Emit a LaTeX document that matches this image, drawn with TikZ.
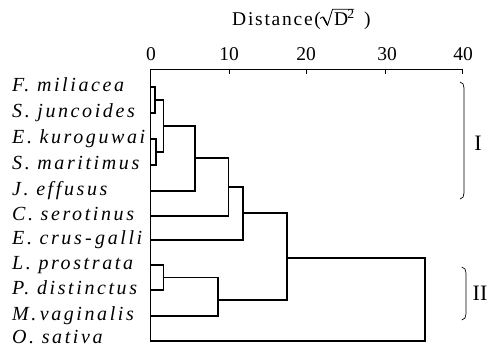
\documentclass[tikz,border=0pt]{standalone}
\usepackage{fontspec}
\setmainfont{Liberation Serif}
\begin{document}
\begin{tikzpicture}[x=1pt,y=-1pt,
  lab/.style={anchor=base west, inner sep=0pt, text depth=0pt, font=\fontsize{20}{20}\selectfont\itshape\addfontfeature{LetterSpace=13}},
  ttl/.style={anchor=base west, inner sep=0pt, font=\fontsize{19.5}{19.5}\selectfont\addfontfeature{LetterSpace=9}},
  num/.style={anchor=base, inner sep=0pt, font=\fontsize{19.5}{19.5}\selectfont},
  grp/.style={inner sep=0pt, font=\fontsize{22}{22}\selectfont},
  tree/.style={line width=1.6pt},
  frame/.style={line width=0.7pt},
  brace/.style={line width=0.7pt}]
\useasboundingbox (0,0) rectangle (494,348);
% title
\node[ttl] (title) at (232,25.5) {Distance(};
\node[ttl] (dsq) at (334,25.5) {D\kern-1pt\raisebox{-1pt}{\textsuperscript{2}}};
\node[ttl] (rp) at (364,25.5) {)};
\draw[line width=0.8pt, line join=round] (320,18.5) -- (323,16.8) -- (327.5,25.5) -- (332.5,9.3) -- (354,9.3);
\draw[line width=1.4pt] (323.4,17.2) -- (327.3,24.8);
% axis
\node[num] (t0) at (151,60) {0};
\node[num] (t10) at (229,60) {10};
\node[num] (t20) at (306,60) {20};
\node[num] (t30) at (387,60) {30};
\node[num] (t40) at (463,60) {40};
\coordinate (a0) at (150,69);
\coordinate (a40) at (462.7,69);
\coordinate (b0) at (150,341);
\draw[frame] (b0) -- (a0) -- (a40) -- ++(0,5);
\foreach \x in {229.5,306.2,385.5} \draw[frame] (\x,69) -- ++(0,5);
% leaves
\foreach \n/\y/\b/\t in {F/87/91.5/F.~miliacea, Sj/113/117.5/S.~juncoides, Ek/139/143.5/E.~kuroguwai, Sm/165/169.5/S.~maritimus, J/191/195.5/J.~effusus, C/216/220.5/C.~serotinus, Ec/240/244.5/E.~crus\,-\,galli, L/265/269.5/L.~prostrata, P/290/294.5/P.~distinctus, M/316/320.5/M.\,vaginalis, O/341/343.5/O.~sativa}{
  \node[lab] (n\n) at (12,\b) {\t};
  \coordinate (l\n) at (150,\y);
}
% merges
\coordinate (c1) at (155,100);
\coordinate (c2) at (156,152);
\coordinate (c3) at (163.3,126);
\coordinate (c4) at (195,158);
\coordinate (c5) at (228.5,187);
\coordinate (c6) at (242.7,213);
\coordinate (c7) at (163.3,277.5);
\coordinate (c8) at (217.7,300);
\coordinate (c9) at (286.7,258);
\coordinate (c10) at (425,298);
\draw[tree] (lF) -| (c1) |- (lSj);
\draw[tree] (lEk) -| (c2) |- (lSm);
\draw[tree] (c1) -| (c3) |- (c2);
\draw[tree] (c3) -| (c4) |- (lJ);
\draw[tree] (c4) -| (c5) |- (lC);
\draw[tree] (c5) -| (c6) |- (lEc);
\draw[tree] (lL) -| (c7) |- (lP);
\draw[tree] (c7) -| (c8) |- (lM);
\draw[tree] (c6) -| (c9) |- (c8);
\draw[tree] (c9) -| (c10) |- (lO);
% groups
\draw[brace] (460,82) to[out=0,in=90] (464,88) -- (464,193) to[out=-90,in=0] (460,199);
\draw[brace] (461.7,267) to[out=0,in=90] (466,273) -- (466,314) to[out=-90,in=0] (461.7,320);
\node[grp] (gI) at (478,143) {I};
\node[grp] (gII) at (480,293) {II};
\end{tikzpicture}
\end{document}
